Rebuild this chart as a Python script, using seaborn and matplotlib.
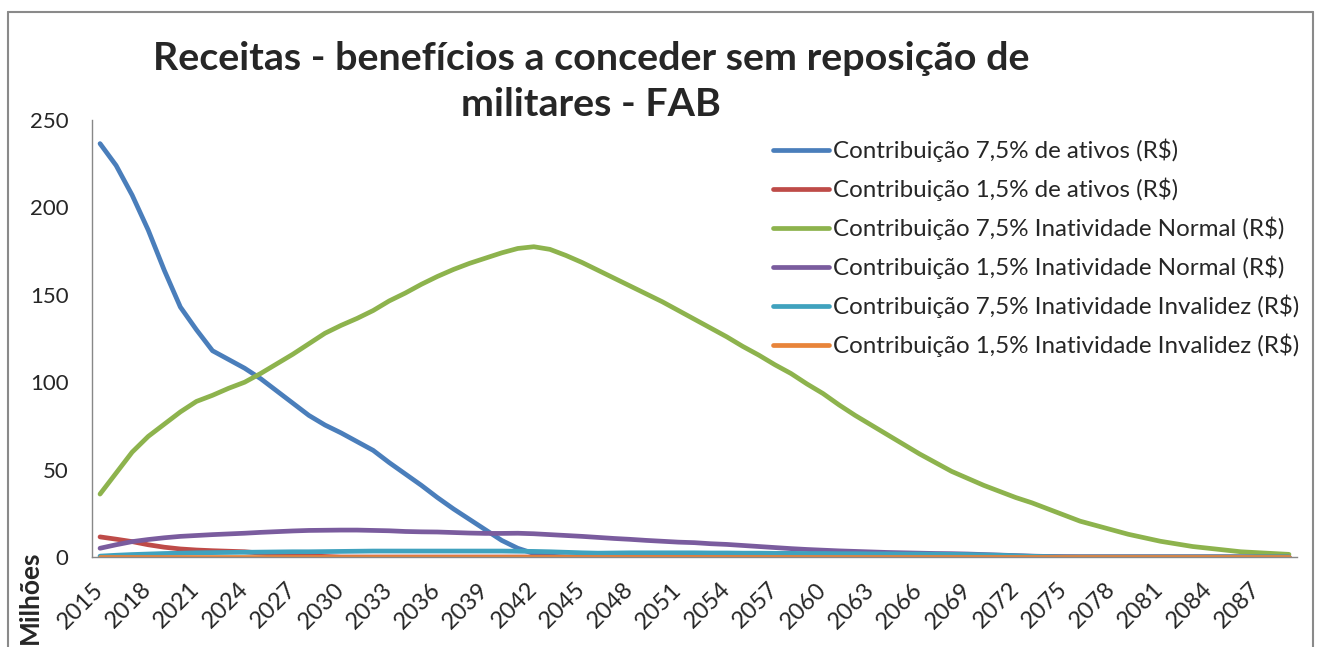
import pandas as pd
import seaborn as sns
import matplotlib.pyplot as plt
from matplotlib.lines import Line2D

# data (millions R$), one value per year 2015-2089
years = list(range(2015, 2090))

ativos_75 = [236.5, 224, 207, 187, 164, 143, 130, 118, 113, 108,
             102, 95, 88, 81, 75.5, 71, 66, 61, 54, 47.5,
             41, 34, 27.5, 21.5, 15.5, 9.5, 5, 2, 0.5, 0,
             0, 0, 0, 0, 0, 0, 0, 0, 0, 0,
             0, 0, 0, 0, 0, 0, 0, 0, 0, 0,
             0, 0, 0, 0, 0, 0, 0, 0, 0, 0,
             0, 0, 0, 0, 0, 0, 0, 0, 0, 0,
             0, 0, 0, 0, 0]

ativos_15 = [11.5, 10.2, 8.8, 7.0, 5.6, 4.6, 4.0, 3.6, 3.3, 3.0,
             2.2, 1.5, 1.0, 0.6, 0.3, 0, 0, 0, 0, 0,
             0, 0, 0, 0, 0, 0, 0, 0, 0, 0,
             0, 0, 0, 0, 0, 0, 0, 0, 0, 0,
             0, 0, 0, 0, 0, 0, 0, 0, 0, 0,
             0, 0, 0, 0, 0, 0, 0, 0, 0, 0,
             0, 0, 0, 0, 0, 0, 0, 0, 0, 0,
             0, 0, 0, 0, 0]

normal_75 = [36, 48, 60, 69, 76, 83, 89, 92.5, 96.5, 100,
             105, 110.5, 116, 122, 128, 132.5, 136.5, 141, 146.5, 151,
             156, 160.5, 164.5, 168, 171, 174, 176.5, 177.5, 176, 172.5,
             168.5, 164, 159.5, 155, 150.5, 146, 141, 136, 131, 126,
             120.5, 115.5, 110, 105, 99, 93.5, 87, 81, 75.5, 70,
             64.5, 59, 54, 49, 45, 41, 37.5, 34, 31, 27.5,
             24, 20.5, 18, 15.5, 13, 11, 9, 7.5, 6, 5,
             4, 3, 2.5, 2, 1.5]

normal_15 = [5, 7, 8.8, 10, 11, 11.8, 12.3, 12.8, 13.2, 13.6,
             14.1, 14.5, 14.9, 15.2, 15.3, 15.4, 15.4, 15.2, 15, 14.6,
             14.4, 14.3, 14, 13.7, 13.5, 13.5, 13.6, 13.3, 12.8, 12.3,
             11.8, 11.2, 10.6, 10.1, 9.5, 9, 8.5, 8.2, 7.6, 7.2,
             6.6, 6, 5.4, 4.8, 4.3, 3.9, 3.5, 3.2, 2.9, 2.6,
             2.4, 2.2, 2, 1.9, 1.7, 1.4, 1.1, 0.8, 0.5, 0.3,
             0.1, 0, 0, 0, 0, 0, 0, 0, 0, 0,
             0, 0, 0, 0, 0]

invalidez_75 = [0.5, 1.0, 1.4, 1.7, 2.0, 2.2, 2.4, 2.5, 2.6, 2.7,
                2.8, 2.9, 3.0, 3.0, 3.1, 3.2, 3.3, 3.4, 3.4, 3.4,
                3.4, 3.4, 3.4, 3.4, 3.4, 3.4, 3.3, 3.2, 3.0, 2.7,
                2.4, 2.2, 2.3, 2.4, 2.4, 2.4, 2.4, 2.4, 2.3, 2.3,
                2.2, 2.2, 2.1, 2.1, 2.0, 2.0, 1.9, 1.9, 1.8, 1.8,
                1.7, 1.7, 1.6, 1.5, 1.4, 1.2, 1.0, 0.7, 0.4, 0.2,
                0, 0, 0, 0, 0, 0, 0, 0, 0, 0,
                0, 0, 0, 0, 0]

invalidez_15 = [0, 0, 0, 0, 0, 0, 0, 0, 0, 0,
                0, 0, 0, 0, 0, 0, 0, 0, 0, 0,
                0, 0, 0, 0, 0, 0, 0, 0, 0, 0,
                0, 0, 0, 0, 0, 0, 0, 0, 0, 0,
                0, 0, 0, 0, 0, 0, 0, 0, 0, 0,
                0, 0, 0, 0, 0, 0, 0, 0, 0, 0,
                0, 0, 0, 0, 0, 0, 0, 0, 0, 0,
                0, 0, 0, 0, 0]

series_names = [
    "Contribuição 7,5% de ativos (R$)",
    "Contribuição 1,5% de ativos (R$)",
    "Contribuição 7,5% Inatividade Normal (R$)",
    "Contribuição 1,5% Inatividade Normal (R$)",
    "Contribuição 7,5% Inatividade Invalidez (R$)",
    "Contribuição 1,5% Inatividade Invalidez (R$)",
]
series_values = [ativos_75, ativos_15, normal_75, normal_15, invalidez_75, invalidez_15]
colors = ["#4A7EBB", "#BE4B48", "#8DB34D", "#7A5C9E", "#40A2BE", "#E8843A"]

rows = []
for name, vals in zip(series_names, series_values):
    for i, v in enumerate(vals):
        rows.append({"idx": i, "valor": v, "serie": name})
df = pd.DataFrame(rows)

# theme
sns.set_theme(style="white")
plt.rcParams["font.family"] = ["Lato", "DejaVu Sans"]

fig = plt.figure(figsize=(13.17, 6.47), dpi=100)
ax = fig.add_axes([92 / 1317, 90 / 647, 1205 / 1317, 437 / 647])

sns.lineplot(data=df, x="idx", y="valor", hue="serie", hue_order=series_names,
             palette=colors, linewidth=3.4, ax=ax, legend=False)

ax.set_xlim(-0.5, len(years) - 0.5)
ax.set_ylim(0, 250)
ax.set_yticks([0, 50, 100, 150, 200, 250])
ax.set_yticklabels(["0", "50", "100", "150", "200", "250"], fontsize=16)
tick_pos = list(range(0, len(years), 3))
ax.set_xticks(tick_pos)
ax.set_xticklabels([str(years[i]) for i in tick_pos], rotation=45, ha="right",
                   va="center", rotation_mode="anchor", fontsize=17)
ax.tick_params(axis="y", length=0, pad=17)
ax.tick_params(axis="x", length=0, pad=21)
ax.set_xlabel("")
ax.set_ylabel("")
for s in ["top", "right"]:
    ax.spines[s].set_visible(False)
for s in ["left", "bottom"]:
    ax.spines[s].set_color("#888888")
    ax.spines[s].set_linewidth(1)

handles = [Line2D([0], [0], color=c, lw=3.4) for c in colors]
fig.legend(handles, series_names, loc="upper left",
           bbox_to_anchor=(773 / 1317, 1 - 139 / 647), bbox_transform=fig.transFigure,
           frameon=False, fontsize=17.4, handlelength=2.3, handletextpad=0.2,
           labelspacing=0.64, borderpad=0, borderaxespad=0)

fig.text(591 / 1317, 1 - 58 / 647, "Receitas - benefícios a conceder sem reposição de",
         ha="center", va="center", fontsize=28.4, fontweight="bold")
fig.text(591 / 1317, 1 - 104 / 647, "militares - FAB",
         ha="center", va="center", fontsize=28.4, fontweight="bold")
fig.text(30 / 1317, 1 - 597 / 647, "Milhões", rotation=90, ha="center", va="center",
         fontsize=19, fontweight="bold")

# chart frame
for xs, ys in [([8, 8], [12, 647]), ([8, 1313], [12, 12]), ([1313, 1313], [12, 647])]:
    fig.add_artist(Line2D([x / 1317 for x in xs], [1 - y / 647 for y in ys],
                          color="#8a8a8a", lw=1.5))

plt.savefig("out.png", dpi=100)
